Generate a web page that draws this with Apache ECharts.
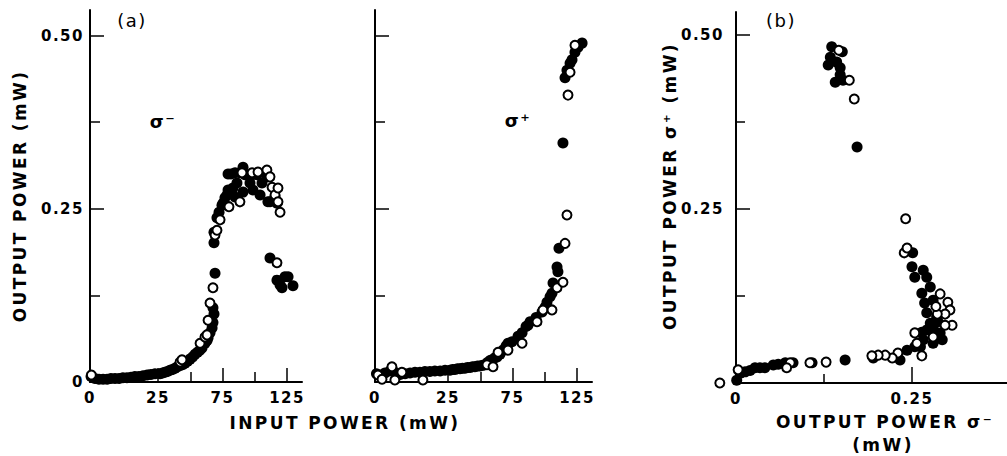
<!DOCTYPE html>
<html><head><meta charset="utf-8">
<script src="https://cdn.jsdelivr.net/npm/echarts@6/dist/echarts.min.js"></script>
<style>
html,body{margin:0;padding:0;background:#fff;}
#c{width:1007px;height:456px;}
#c svg text{letter-spacing:1.5px;}
#c svg text[style*="17px"]{letter-spacing:2.4px;}
</style></head><body><div id="c"></div>
<script>
// ---- tick labels ----
const inputTickLabels = [0, 25, 75, 125];
const inputTickMajor = [25, 75, 125];
const inputTickMinor = [50, 100];
const powerTickLabels = [0, 0.25, 0.5];
const powerTickMajor = [0.25, 0.5];
const powerTickMinor = [0.125, 0.375];
const bXTickLabels = [0, 0.25];
const bYTickLabels = [0.25, 0.5];

// ---- (a) sigma- : [input mW, output mW] ----
const sigmaMinusFilled = [
 [0.4,0.008],[1.8,0.005],[3.3,0.004],[4.8,0.004],[6.3,0.004],[7.7,0.005],[9.2,0.005],[10.7,0.005],
 [12.1,0.006],[13.6,0.006],[15.1,0.007],[16.5,0.008],[18.0,0.008],[19.5,0.009],[21.0,0.010],[22.4,0.011],[23.9,0.012],
 [26.6,0.012],[28.5,0.013],[30.4,0.014],[32.3,0.015],[34.3,0.017],[36.2,0.018],[38.2,0.020],[40.1,0.022],
 [42.1,0.024],[44.0,0.025],[45.9,0.027],[47.9,0.030],[49.8,0.033],[51.8,0.036],[53.7,0.040],[55.6,0.043],
 [57.6,0.046],[59.1,0.049],[61.4,0.056],[63.0,0.060],[63.8,0.064],[65.3,0.071],[66.9,0.078],[67.6,0.086],
 [68.4,0.098],[67.6,0.107],[69.2,0.157],[68.4,0.201],[68.4,0.216],[70.7,0.237],[72.3,0.245],[74.6,0.255],
 [75.4,0.258],[76.9,0.266],[78.5,0.270],[79.3,0.277],[80.8,0.273],[83.1,0.280],[84.7,0.267],[86.2,0.287],
 [79.3,0.300],[81.6,0.300],[84.7,0.302],[88.5,0.302],[90.9,0.310],[90.9,0.274],[92.4,0.299],[96.3,0.287],
 [98.6,0.277],[97.9,0.299],[101.7,0.299],[104.1,0.270],[105.6,0.287],[109.4,0.296],[110.2,0.260],[111.8,0.260],
 [115.7,0.267],[117.2,0.258],[111.8,0.179],[117.2,0.147],[119.6,0.140],[121.1,0.136],[123.4,0.152],[125.8,0.152],[129.6,0.139]
];
const sigmaMinusOpen = [
 [0.5,0.010],[42.1,0.029],[43.6,0.032],[57.6,0.056],[61.4,0.065],[63.0,0.068],[63.8,0.089],[65.3,0.114],
 [67.6,0.136],[69.2,0.212],[70.7,0.219],[73.1,0.234],[80.0,0.253],[88.5,0.260],[90.1,0.302],[97.9,0.302],
 [102.5,0.303],[109.4,0.306],[111.8,0.296],[113.4,0.281],[115.7,0.270],[118.0,0.280],[118.0,0.260],
 [119.6,0.245],[117.2,0.172]
];

// ---- (a) sigma+ ----
const sigmaPlusFilled = [
 [0.5,0.012],[2.0,0.010],[3.4,0.013],[5.1,0.016],[6.8,0.014],[8.6,0.011],[10.3,0.012],[12.0,0.013],
 [13.7,0.014],[15.4,0.014],[17.1,0.015],[18.8,0.015],[20.5,0.016],[22.3,0.016],[24.0,0.017],
 [26.5,0.017],[28.5,0.018],[30.4,0.018],[32.3,0.019],[34.3,0.019],[36.2,0.020],[38.2,0.020],[40.1,0.021],
 [42.1,0.021],[44.0,0.022],[45.9,0.022],[47.9,0.023],[49.8,0.023],[51.8,0.024],[53.7,0.025],[55.6,0.028],
 [57.6,0.031],[59.1,0.032],[61.4,0.035],[63.0,0.036],[65.3,0.040],[67.7,0.046],[70.0,0.052],[71.5,0.056],
 [74.6,0.058],[79.3,0.066],[82.4,0.071],[85.5,0.080],[87.0,0.082],[88.6,0.087],[93.2,0.093],[97.9,0.101],
 [100.2,0.108],[101.7,0.115],[104.1,0.123],[105.6,0.128],[106.4,0.143],[109.5,0.166],[110.2,0.159],
 [111.0,0.193],[114.1,0.345],[115.7,0.439],[117.2,0.450],[119.6,0.460],[121.1,0.465],[123.4,0.476],
 [125.8,0.483],[128.9,0.489]
];
const sigmaPlusOpen = [
 [1.0,0.010],[2.4,0.004],[5.8,0.022],[6.8,0.003],[9.2,0.014],[16.4,0.003],
 [55.2,0.025],[59.9,0.022],[63.8,0.043],[71.5,0.046],[82.4,0.056],[94.0,0.087],[98.6,0.104],
 [105.6,0.104],[109.5,0.136],[114.1,0.144],[115.7,0.200],[117.2,0.241],[118.0,0.414],[119.6,0.447],[123.4,0.486]
];

// ---- (b) sigma+ output vs sigma- output ----
const bFilled = [
 [0.136,0.483],[0.151,0.476],[0.134,0.468],[0.131,0.457],[0.143,0.461],[0.148,0.453],[0.148,0.443],
 [0.141,0.432],[0.152,0.435],[0.172,0.339],[0.251,0.187],[0.250,0.167],[0.254,0.152],[0.266,0.162],
 [0.271,0.152],[0.276,0.138],[0.264,0.129],[0.268,0.115],[0.280,0.119],[0.271,0.101],[0.276,0.086],
 [0.280,0.079],[0.271,0.076],[0.264,0.073],[0.287,0.088],[0.290,0.072],[0.280,0.057],[0.293,0.062],
 [0.266,0.062],[0.254,0.052],[0.262,0.052],[0.243,0.047],[0.233,0.033],[0.195,0.036],[0.155,0.033],
 [0.108,0.029],[0.081,0.029],[0.070,0.029],[0.060,0.027],[0.053,0.026],[0.041,0.022],[0.034,0.022],
 [0.027,0.022],[0.020,0.018],[0.013,0.016],[0.006,0.014],[0.001,0.004],[0.285,0.095]
];
const bOpen = [
 [0.146,0.478],[0.161,0.435],[0.168,0.408],[0.241,0.236],[0.239,0.187],[0.243,0.194],[0.290,0.128],
 [0.301,0.116],[0.304,0.105],[0.297,0.099],[0.286,0.099],[0.307,0.083],[0.297,0.083],[0.254,0.072],
 [0.280,0.066],[0.284,0.110],[0.264,0.039],[0.257,0.057],[0.230,0.043],[0.222,0.036],[0.212,0.040],
 [0.202,0.040],[0.193,0.039],[0.128,0.030],[0.105,0.029],[0.077,0.029],[0.072,0.022],[0.003,0.019],[-0.023,0.000]
];

const FONT = 'DejaVu Sans';
const INK = '#000';

function ax(o) {
  return {
    type: 'value', gridIndex: o.g, min: o.min, max: o.max, position: o.pos, show: o.show !== false,
    axisLine: { show: !!o.line, onZero: false, lineStyle: { color: INK, width: 2 } },
    axisTick: { show: !!o.ticks, inside: true, length: o.len || 14, customValues: o.ticks || [],
                lineStyle: { color: INK, width: 1.5 } },
    axisLabel: { show: !!o.labels, customValues: o.labels || [], margin: o.margin || 8,
                 formatter: o.fmt, color: INK, fontFamily: FONT, fontSize: 15, fontWeight: 'bold' },
    splitLine: { show: false }, minorTick: { show: false }, minorSplitLine: { show: false }
  };
}
const fmtInt = v => String(v);
const fmt2 = v => (v === 0 ? '0' : v.toFixed(2));

const Y_A = 0.5368, X_A = 136.6, X_B = 0.385, Y_B = 0.533;

const grids = [
  { left: 90, top: 10, width: 68, height: 372 },
  { left: 158, top: 10, width: 144, height: 372 },
  { left: 375, top: 10, width: 73, height: 372 },
  { left: 448, top: 10, width: 144, height: 372 },
  { left: 736, top: 12, width: 271, height: 371 }
].map(g => Object.assign({ containLabel: false, outerBoundsMode: 'none' }, g));

const xAxes = [
  ax({ g: 0, min: 0, max: 25, pos: 'bottom', line: true, labels: inputTickLabels.filter(v => v < 25), fmt: fmtInt }),
  ax({ g: 1, min: 25, max: X_A, pos: 'bottom', line: true, ticks: inputTickMajor, labels: inputTickLabels.filter(v => v >= 25), fmt: fmtInt }),
  ax({ g: 1, min: 25, max: X_A, pos: 'bottom', ticks: inputTickMinor, len: 10 }),
  ax({ g: 2, min: 0, max: 25, pos: 'bottom', line: true, labels: inputTickLabels.filter(v => v < 25), fmt: fmtInt }),
  ax({ g: 3, min: 25, max: X_A, pos: 'bottom', line: true, ticks: inputTickMajor, labels: inputTickLabels.filter(v => v >= 25), fmt: fmtInt }),
  ax({ g: 3, min: 25, max: X_A, pos: 'bottom', ticks: inputTickMinor, len: 10 }),
  ax({ g: 4, min: 0, max: X_B, pos: 'bottom', line: true, ticks: [0.25], len: 16, labels: bXTickLabels, fmt: fmt2 }),
  ax({ g: 4, min: 0, max: X_B, pos: 'bottom', ticks: [0.125], len: 9 })
];
const yAxes = [
  ax({ g: 0, min: 0, max: Y_A, pos: 'left', line: true, ticks: powerTickMajor, labels: powerTickLabels, fmt: fmt2, margin: 6 }),
  ax({ g: 0, min: 0, max: Y_A, pos: 'left', ticks: powerTickMinor, len: 10 }),
  ax({ g: 1, min: 0, max: Y_A, pos: 'left', show: false }),
  ax({ g: 2, min: 0, max: Y_A, pos: 'left', line: true, ticks: powerTickMajor }),
  ax({ g: 2, min: 0, max: Y_A, pos: 'left', ticks: powerTickMinor, len: 10 }),
  ax({ g: 3, min: 0, max: Y_A, pos: 'left', show: false }),
  ax({ g: 4, min: 0, max: Y_B, pos: 'left', line: true, ticks: powerTickMajor, labels: bYTickLabels, fmt: fmt2, margin: 12 }),
  ax({ g: 4, min: 0, max: Y_B, pos: 'left', ticks: powerTickMinor, len: 9 })
];

function sc(data, xi, yi, open) {
  return {
    type: 'scatter', xAxisIndex: xi, yAxisIndex: yi, data: data, symbol: 'circle',
    symbolSize: open ? 9 : 11, clip: false, silent: true, z: open ? 3 : 2,
    itemStyle: open ? { color: '#fff', borderColor: INK, borderWidth: 2, opacity: 1 }
                    : { color: INK, opacity: 1 },
    emphasis: { disabled: true }
  };
}
const lo = a => a.filter(p => p[0] < 25);
const hi = a => a.filter(p => p[0] >= 25);

const series = [
  sc(lo(sigmaMinusFilled), 0, 0, false), sc(hi(sigmaMinusFilled), 1, 2, false),
  sc(lo(sigmaMinusOpen), 0, 0, true), sc(hi(sigmaMinusOpen), 1, 2, true),
  sc(lo(sigmaPlusFilled), 3, 3, false), sc(hi(sigmaPlusFilled), 4, 5, false),
  sc(lo(sigmaPlusOpen), 3, 3, true), sc(hi(sigmaPlusOpen), 4, 5, true),
  sc(bFilled, 6, 6, false), sc(bOpen, 6, 6, true)
];

function txt(x, y, text, size, opts) {
  opts = opts || {};
  return {
    type: 'text', x: x, y: y, rotation: opts.rot || 0, silent: true,
    style: { text: text, fill: INK, font: (opts.weight || 'bold') + ' ' + size + 'px "DejaVu Sans"',
             align: 'center', verticalAlign: 'middle', textAlign: 'center', textVerticalAlign: 'middle' }
  };
}

const chart = echarts.init(document.getElementById('c'), null, { renderer: 'svg' });
chart.setOption({
  animation: false,
  backgroundColor: '#fff',
  grid: grids,
  xAxis: xAxes,
  yAxis: yAxes,
  series: series,
  graphic: [
    txt(132, 20, '(a)', 18, { weight: 'normal' }),
    txt(781, 20, '(b)', 18, { weight: 'normal' }),
    txt(163, 121, 'σ⁻', 18),
    txt(518, 120, 'σ⁺', 18),
    txt(345, 423, 'INPUT POWER (mW)', 17),
    txt(20, 196, 'OUTPUT POWER (mW)', 17, { rot: Math.PI / 2 }),
    txt(670, 186, 'OUTPUT POWER σ⁺ (mW)', 17, { rot: Math.PI / 2 }),
    txt(885, 422, 'OUTPUT POWER σ⁻', 17),
    txt(883, 445, '(mW)', 17)
  ]
});
</script></body></html>
